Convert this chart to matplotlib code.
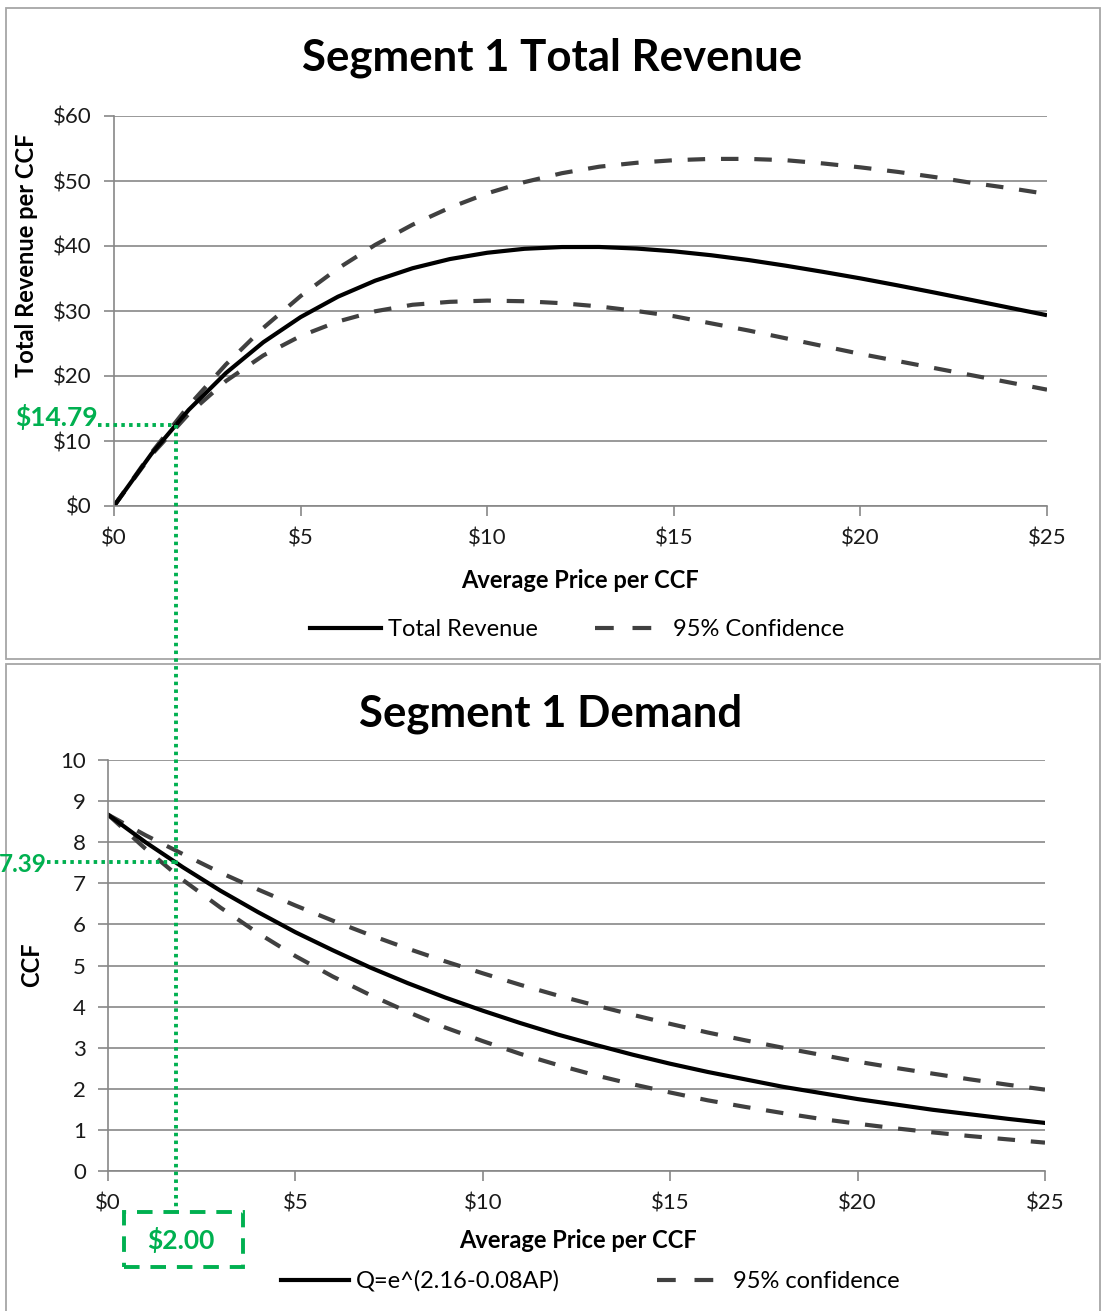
import matplotlib
matplotlib.use('Agg')
import matplotlib.pyplot as plt
from matplotlib.lines import Line2D
from matplotlib.patches import Rectangle

W, H = 1102, 1311

# ---------------- data ----------------
price = [0, 1, 2, 3, 4, 5, 6, 7, 8, 9, 10, 11, 12, 13, 14, 15, 16, 17, 18, 19, 20, 21, 22, 23, 24, 25]

revenue = [0.0, 8.00, 14.78, 20.46, 25.19, 29.06, 32.20, 34.67, 36.58, 37.99, 38.96, 39.57, 39.84,
           39.85, 39.61, 39.18, 38.58, 37.84, 36.97, 36.02, 35.02, 33.94, 32.82, 31.67, 30.50, 29.35]
revenue_upper = [0.0, 8.17, 15.42, 21.78, 27.40, 32.30, 36.54, 40.18, 43.28, 45.90, 48.10, 49.83, 51.2,
                 52.2, 52.8, 53.2, 53.4, 53.4, 53.2, 52.7, 52.1, 51.4, 50.6, 49.7, 48.9, 48.0]
revenue_lower = [0.0, 7.84, 14.16, 19.23, 23.16, 26.15, 28.38, 29.96, 30.96, 31.41, 31.6, 31.5, 31.2,
                 30.7, 30.0, 29.2, 28.1, 27.0, 25.8, 24.6, 23.4, 22.3, 21.2, 20.1, 19.0, 17.9]

demand = [8.67, 8.00, 7.39, 6.82, 6.30, 5.81, 5.37, 4.95, 4.57, 4.22, 3.90, 3.60, 3.32,
          3.07, 2.83, 2.61, 2.41, 2.23, 2.05, 1.90, 1.75, 1.62, 1.49, 1.38, 1.27, 1.17]
demand_upper = [8.67, 8.17, 7.71, 7.26, 6.85, 6.46, 6.09, 5.74, 5.41, 5.10, 4.81, 4.53, 4.27,
                4.03, 3.80, 3.58, 3.37, 3.18, 3.00, 2.83, 2.66, 2.51, 2.37, 2.23, 2.10, 1.98]
demand_lower = [8.67, 7.84, 7.08, 6.41, 5.79, 5.23, 4.73, 4.28, 3.87, 3.49, 3.16, 2.85, 2.58,
                2.33, 2.11, 1.91, 1.72, 1.56, 1.41, 1.27, 1.15, 1.04, 0.94, 0.85, 0.77, 0.69]

price_ticks = [0, 5, 10, 15, 20, 25]
price_tick_labels = ['$0', '$5', '$10', '$15', '$20', '$25']
rev_ticks = [0, 10, 20, 30, 40, 50, 60]
rev_tick_labels = ['$0', '$10', '$20', '$30', '$40', '$50', '$60']
dem_ticks = [0, 1, 2, 3, 4, 5, 6, 7, 8, 9, 10]
dem_tick_labels = ['0', '1', '2', '3', '4', '5', '6', '7', '8', '9', '10']

title_top = 'Segment 1 Total Revenue'
title_bottom = 'Segment 1 Demand'
xlabel = 'Average Price per CCF'
ylabel_top = 'Total Revenue per CCF'
ylabel_bottom = 'CCF'
legend_top = ['Total Revenue', '95% Confidence']
legend_bottom = ['Q=e^(2.16-0.08AP)', '95% confidence']
green_rev_label = '$14.79'
green_dem_label = '7.39'
green_price_label = '$2.00'

# ---------------- style ----------------
plt.rcParams['font.family'] = ['Lato', 'DejaVu Sans']
GRID = '#878787'
BORDER = '#a6a6a6'
GREEN = '#00B050'
DASHC = '#404040'
LW = 3.0
DASH = (0, (4.2, 3.8))
LEG_DASH = (0, (4.5, 4.5))
TICK_FS = 16
LABEL_FS = 17
LEG_FS = 17
TITLE_FS = 31.5
GREEN_FS = 19

fig = plt.figure(figsize=(W / 100, H / 100), dpi=100)


def fx(x):
    return x / W


def fy(y):
    return 1 - y / H


# panel borders
for (x0, y0, x1, y1) in [(6, 8, 1100, 659), (6, 664, 1100, 1318)]:
    fig.add_artist(Rectangle((fx(x0), fy(y1)), fx(x1) - fx(x0), fy(y0) - fy(y1),
                             transform=fig.transFigure, fill=False, edgecolor=BORDER, lw=1.3))


def style(ax):
    for s in ['top', 'right']:
        ax.spines[s].set_visible(False)
    for s in ['left', 'bottom']:
        ax.spines[s].set_color(GRID)
        ax.spines[s].set_linewidth(1.2)
    ax.yaxis.grid(True, color=GRID, lw=1.2)
    ax.set_axisbelow(True)
    ax.tick_params(axis='both', color=GRID, width=1.2, length=7, labelsize=TICK_FS,
                   direction='out', labelcolor='#1a1a1a')
    ax.tick_params(axis='x', pad=9)
    ax.tick_params(axis='y', pad=9)
    ax.set_facecolor('none')


# ---------------- top chart ----------------
ax1 = fig.add_axes([fx(114), fy(506), fx(1047) - fx(114), fy(116) - fy(506)])
style(ax1)
ax1.plot(price, revenue_upper, color=DASHC, lw=LW, linestyle=DASH)
ax1.plot(price, revenue_lower, color=DASHC, lw=LW, linestyle=DASH)
ax1.plot(price, revenue, color='black', lw=LW, solid_capstyle='butt')
ax1.set_xlim(0, 25)
ax1.set_ylim(0, 60)
ax1.set_xticks(price_ticks)
ax1.set_xticklabels(price_tick_labels)
ax1.set_yticks(rev_ticks)
ax1.set_yticklabels(rev_tick_labels)

fig.text(fx(552), fy(58), title_top, ha='center', va='center', fontsize=TITLE_FS, fontweight='bold')
fig.text(fx(580), fy(581), xlabel, ha='center', va='center', fontsize=LABEL_FS, fontweight='bold')
fig.text(fx(27), fy(255), ylabel_top, ha='center', va='center', rotation=90,
         fontsize=LABEL_FS, fontweight='bold')

h1 = [Line2D([], [], color='black', lw=LW),
      Line2D([], [], color=DASHC, lw=LW, linestyle=LEG_DASH)]
fig.legend(h1, legend_top, loc='center', bbox_to_anchor=(fx(577), fy(630)),
           bbox_transform=fig.transFigure, ncol=2, frameon=False, fontsize=LEG_FS,
           handlelength=3.0, handletextpad=0.3, columnspacing=2.4)

# ---------------- bottom chart ----------------
ax2 = fig.add_axes([fx(108), fy(1171), fx(1045) - fx(108), fy(760) - fy(1171)])
style(ax2)
ax2.plot(price, demand_upper, color=DASHC, lw=LW, linestyle=DASH)
ax2.plot(price, demand_lower, color=DASHC, lw=LW, linestyle=DASH)
ax2.plot(price, demand, color='black', lw=LW)
ax2.set_xlim(0, 25)
ax2.set_ylim(0, 10)
ax2.set_xticks(price_ticks)
ax2.set_xticklabels(price_tick_labels)
ax2.set_yticks(dem_ticks)
ax2.set_yticklabels(dem_tick_labels)

fig.text(fx(551), fy(714), title_bottom, ha='center', va='center', fontsize=TITLE_FS, fontweight='bold')
fig.text(fx(578), fy(1241), xlabel, ha='center', va='center', fontsize=LABEL_FS, fontweight='bold')
fig.text(fx(32), fy(965), ylabel_bottom, ha='center', va='center', rotation=90,
         fontsize=LABEL_FS, fontweight='bold')

h2 = [Line2D([], [], color='black', lw=LW),
      Line2D([], [], color=DASHC, lw=LW, linestyle=LEG_DASH)]
fig.legend(h2, legend_bottom, loc='center', bbox_to_anchor=(fx(590), fy(1281)),
           bbox_transform=fig.transFigure, ncol=2, frameon=False, fontsize=LEG_FS,
           handlelength=2.9, handletextpad=0.3, columnspacing=4.1)

# ---------------- green annotation overlay ----------------
dot = (0, (0.9, 1.1))
fig.add_artist(Line2D([fx(176), fx(176)], [fy(425), fy(1216)], transform=fig.transFigure,
                      color=GREEN, lw=2.8, linestyle=dot, zorder=5))
fig.add_artist(Line2D([fx(98), fx(176)], [fy(425), fy(425)], transform=fig.transFigure,
                      color=GREEN, lw=2.8, linestyle=dot, zorder=5))
fig.add_artist(Line2D([fx(47), fx(176)], [fy(862), fy(862)], transform=fig.transFigure,
                      color=GREEN, lw=2.8, linestyle=dot, zorder=5))
fig.text(fx(98), fy(417), green_rev_label, ha='right', va='center', color=GREEN,
         fontsize=GREEN_FS, fontweight='bold')
fig.text(fx(47), fy(864), green_dem_label, ha='right', va='center', color=GREEN,
         fontsize=17.5, fontweight='bold')
fig.add_artist(Rectangle((fx(124), fy(1267)), fx(243) - fx(124), fy(1212) - fy(1267),
                         transform=fig.transFigure, fill=True, facecolor='white',
                         edgecolor=GREEN, lw=2.8, linestyle=(0, (4, 2.8)), zorder=6))
fig.text(fx(181), fy(1240), green_price_label, ha='center', va='center', color=GREEN,
         fontsize=GREEN_FS, fontweight='bold', zorder=7)

fig.savefig('out.png', dpi=100)
